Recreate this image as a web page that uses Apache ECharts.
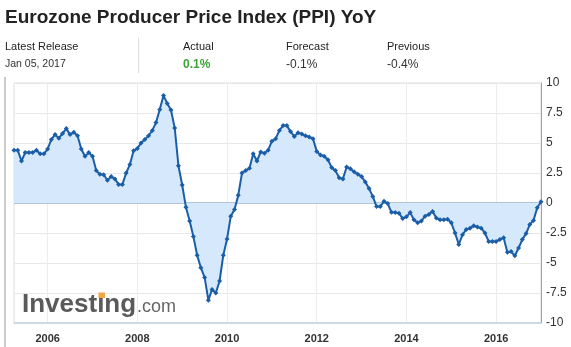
<!DOCTYPE html>
<html>
<head>
<meta charset="utf-8">
<script src="https://cdn.jsdelivr.net/npm/echarts@6/dist/echarts.min.js"></script>
<style>
html,body{margin:0;padding:0;background:#fff;}
#chart{width:571px;height:347px;}
</style>
</head>
<body>
<div id="chart"></div>
<script>
// ---- data ----
const startYear = 2005;
const startMonth = 4; // first point: April 2005
const yearLabels = ['2006', '2008', '2010', '2012', '2014', '2016'];
const yTickLabels = ['10', '7.5', '5', '2.5', '0', '-2.5', '-5', '-7.5', '-10'];
const ppiValues = [
  4.4, 4.4, 3.5, 4.2, 4.2, 4.2, 4.4, 4.1, 4.1, 4.5,
  5.3, 5.7, 5.4, 5.8, 6.2, 5.7, 5.9, 5.6, 4.5, 3.9,
  4.2, 3.9, 2.7, 2.4, 2.35, 1.9, 2.2, 2.0, 1.55, 1.55,
  2.5, 3.2, 4.35, 4.55, 5.0, 5.3, 5.6, 6.05, 6.7, 7.8,
  8.95, 8.3, 7.75, 6.25, 3.1, 1.5, -0.35, -1.5, -2.8, -4.35,
  -5.4, -6.2, -8.1, -7.2, -7.5, -6.5, -4.35, -3.0, -1.1, -0.55,
  0.65, 2.5, 2.7, 2.9, 4.1, 3.5, 4.25, 4.15, 4.4, 5.15,
  5.35, 6.05, 6.45, 6.45, 5.95, 5.55, 5.85, 5.75, 5.6, 5.5,
  5.35, 4.3, 4.0, 3.9, 3.6, 2.95, 2.7, 2.1, 2.0, 3.0,
  2.85, 2.6, 2.4, 2.2, 1.75, 1.2, 0.55, -0.3, -0.3, 0.15,
  -0.05, -0.78, -0.8, -0.85, -1.3, -1.15, -0.8, -1.4, -1.65, -1.5,
  -1.1, -0.95, -0.7, -1.25, -1.4, -1.4, -1.35, -1.65, -2.5, -3.45,
  -2.65, -2.2, -2.1, -1.9, -2.0, -2.1, -2.5, -3.2, -3.2, -3.2,
  -3.05, -2.9, -4.1, -4.05, -4.4, -3.75, -3.05, -2.55, -1.8, -1.45,
  -0.4, 0.1
];
const headerLabels = ['Latest Release', 'Actual', 'Forecast', 'Previous'];
const headerValues = ['Jan 05, 2017', '0.1%', '-0.1%', '-0.4%'];

// monthly categories (release months)
const categories = [];
for (let i = 0; i < ppiValues.length; i++) {
  const m = startMonth - 1 + i;
  const y = startYear + Math.floor(m / 12);
  const mm = (m % 12) + 1;
  categories.push(y + '-' + (mm < 10 ? '0' + mm : '' + mm));
}
const isYearTick = (idx, val) => val.slice(5) === '01' && yearLabels.indexOf(val.slice(0, 4)) >= 0;

const chart = echarts.init(document.getElementById('chart'), null, {renderer: 'canvas'});
const FONT = '"Liberation Sans", Arial, sans-serif';
const headerX = [5, 183, 286, 387];

const graphics = [
  {type: 'text', x: 5, y: 8, style: {text: 'Eurozone Producer Price Index (PPI) YoY', font: 'bold 19px ' + FONT, fill: '#222'}},
  {type: 'line', shape: {x1: 138.5, y1: 38, x2: 138.5, y2: 73}, style: {stroke: '#dddddd', lineWidth: 1}},
  {type: 'line', shape: {x1: 5, y1: 77, x2: 5, y2: 347}, style: {stroke: '#cccccc', lineWidth: 2}},
  // logo
  {type: 'text', x: 22, y: 292, z: 100, style: {text: 'Investing', font: 'bold 26px ' + FONT, fill: '#5a5a5a'}},
  {type: 'rect', z: 101, shape: {x: 98.5, y: 292.5, width: 6.5, height: 5.5}, style: {fill: '#f3a640'}},
  {type: 'text', x: 137, y: 298, z: 100, style: {text: '.com', font: '18px ' + FONT, fill: '#666'}}
];
headerLabels.forEach((t, i) => {
  graphics.push({type: 'text', x: headerX[i], y: 41, style: {text: t, font: '11px ' + FONT, fill: '#222'}});
});
headerValues.forEach((t, i) => {
  const isActual = i === 1;
  graphics.push({type: 'text', x: headerX[i], y: 59, style: {
    text: t,
    font: (isActual ? 'bold 12px ' : (i === 0 ? '10.5px ' : '12px ')) + FONT,
    fill: isActual ? '#3aa536' : '#333'
  }});
});

chart.setOption({
  animation: false,
  backgroundColor: '#fff',
  graphic: graphics,
  grid: {
    left: 14, right: 30, top: 83, bottom: 24,
    show: true, borderColor: '#dddddd', borderWidth: 1,
    outerBoundsMode: 'none'
  },
  xAxis: {
    type: 'category',
    data: categories,
    boundaryGap: false,
    axisLine: {show: true, onZero: false, lineStyle: {color: '#c4d2e0', width: 1.5}},
    axisTick: {show: false},
    axisLabel: {
      interval: isYearTick,
      formatter: v => v.slice(0, 4),
      color: '#333', fontSize: 11, fontWeight: 'bold', fontFamily: FONT, margin: 10
    },
    splitLine: {show: true, interval: isYearTick, lineStyle: {color: '#ececec', width: 1}}
  },
  yAxis: {
    type: 'value',
    position: 'right',
    min: -10, max: 10, interval: 2.5,
    axisLine: {show: true, lineStyle: {color: '#a0a0a0', width: 1}},
    axisTick: {show: false},
    axisLabel: {
      color: '#333', fontSize: 12, fontFamily: FONT, margin: 5,
      formatter: v => {
        const s = String(v);
        return yTickLabels.indexOf(s) >= 0 ? s : '';
      }
    },
    splitLine: {show: true, lineStyle: {color: '#e8e8e8', width: 1}}
  },
  series: [{
    type: 'line',
    data: ppiValues,
    symbol: 'diamond',
    symbolSize: 5,
    showSymbol: true,
    showAllSymbol: true,
    lineStyle: {color: '#1b5ea8', width: 2},
    itemStyle: {color: '#1b5ea8'},
    areaStyle: {color: '#d6e8fb', opacity: 1},
    markLine: {
      silent: true,
      symbol: ['none', 'none'],
      label: {show: false},
      lineStyle: {color: '#b3c4d6', width: 2, type: 'solid'},
      data: [{yAxis: 0}],
      z: 1
    },
    z: 5
  }]
});
</script>
</body>
</html>
